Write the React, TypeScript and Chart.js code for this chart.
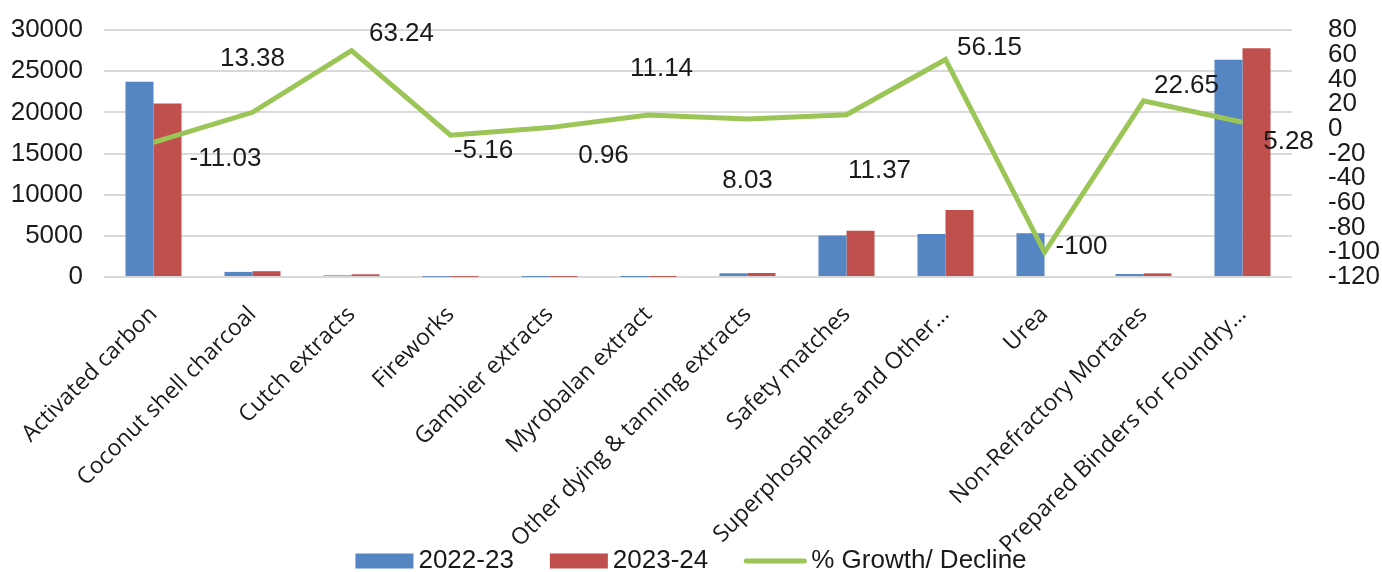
import React, { useEffect, useRef } from "react";
import { Chart, registerables } from "chart.js";

Chart.register(...registerables);

const categories = [
  "Activated carbon",
  "Coconut shell charcoal",
  "Cutch extracts",
  "Fireworks",
  "Gambier extracts",
  "Myrobalan extract",
  "Other dying & tanning extracts",
  "Safety matches",
  "Superphosphates and Other…",
  "Urea",
  "Non-Refractory Mortares",
  "Prepared Binders for Foundry…",
];
const values2022 = [23700, 620, 200, 20, 15, 10, 450, 5050, 5220, 5310, 360, 26400];
const values2023 = [21085, 703, 326, 19, 15, 11, 486, 5624, 8151, 0, 441, 27794];
const growth = [-11.03, 13.38, 63.24, -5.16, 0.96, 11.14, 8.03, 11.37, 56.15, -100, 22.65, 5.28];
const growthLabelOffsets = [
  [72, 16], [0, -53], [50, -17], [33, 16], [54, 28], [13, -46],
  [0, 62], [33, 56], [44, -12], [37, -5], [43, -15], [46, 20],
];

const BLUE = "#5585C3";
const RED = "#C0504D";
const GREEN = "#9BC556";
const TEXT = "#1a1a1a";
const NUM_FONT = '"Liberation Sans", Arial, sans-serif';

const labelPlugin = {
  id: "growthLabels",
  afterDatasetsDraw(chart: any) {
    const meta = chart.getDatasetMeta(2);
    const ctx = chart.ctx;
    ctx.save();
    ctx.font = `26px ${NUM_FONT}`;
    ctx.fillStyle = TEXT;
    ctx.textAlign = "center";
    ctx.textBaseline = "middle";
    meta.data.forEach((pt: any, i: number) => {
      const [dx, dy] = growthLabelOffsets[i];
      ctx.fillText(String(growth[i]), pt.x + dx, pt.y + dy);
    });
    ctx.restore();
  },
};

const legendPlugin = {
  id: "customLegend",
  afterDraw(chart: any) {
    const ctx = chart.ctx;
    const ds = chart.data.datasets;
    ctx.save();
    ctx.font = `26px ${NUM_FONT}`;
    const boxW = 58, boxH = 15, lineW = 62, gapText = 5, gapItem = 36;
    const items = ds.map((d: any) => {
      const isLine = d.type === "line";
      const sw = isLine ? lineW : boxW;
      const tw = ctx.measureText(d.label).width;
      return { d, isLine, sw, tw, w: sw + gapText + tw };
    });
    const total = items.reduce((s: number, it: any) => s + it.w, 0) + gapItem * (items.length - 1);
    let x = (chart.width - total) / 2;
    const cy = 561;
    ctx.textBaseline = "middle";
    ctx.textAlign = "left";
    items.forEach((it: any) => {
      if (it.isLine) {
        ctx.strokeStyle = it.d.borderColor;
        ctx.lineWidth = 5;
        ctx.lineCap = "round";
        ctx.beginPath();
        ctx.moveTo(x + 2, cy);
        ctx.lineTo(x + it.sw - 2, cy);
        ctx.stroke();
      } else {
        ctx.fillStyle = it.d.backgroundColor;
        ctx.fillRect(x, cy - boxH / 2, it.sw, boxH);
      }
      ctx.fillStyle = TEXT;
      ctx.fillText(it.d.label, x + it.sw + gapText, cy);
      x += it.w + gapItem;
    });
    ctx.restore();
  },
};

export default function App() {
  const ref = useRef<HTMLCanvasElement>(null);
  useEffect(() => {
    const chart = new Chart(ref.current!, {
      type: "bar",
      data: {
        labels: categories,
        datasets: [
          { type: "bar", label: "2022-23", data: values2022, backgroundColor: BLUE, yAxisID: "y", order: 1, categoryPercentage: 0.566, barPercentage: 1 },
          { type: "bar", label: "2023-24", data: values2023, backgroundColor: RED, yAxisID: "y", order: 1, categoryPercentage: 0.566, barPercentage: 1 },
          { type: "line", label: "% Growth/ Decline", data: growth, borderColor: GREEN, backgroundColor: GREEN, borderWidth: 5, pointRadius: 0, yAxisID: "y1", order: 0, tension: 0 },
        ] as any,
      },
      options: {
        responsive: false,
        animation: false,
        layout: { padding: { left: 0, right: 0, top: 30, bottom: 0 } },
        plugins: {
          tooltip: { enabled: false },
          legend: { display: false },
        },
        scales: {
          x: {
            grid: { display: false },
            border: { display: false },
            ticks: {
              minRotation: 45,
              maxRotation: 45,
              autoSkip: false,
              color: TEXT,
              padding: 16,
              font: { family: '"Open Sans", sans-serif', size: 23 },
            },
            afterFit: (s: any) => { s.height = 295; s.paddingLeft = 0; s.paddingRight = 0; },
          },
          y: {
            position: "left",
            min: 0,
            max: 30000,
            ticks: { stepSize: 5000, color: TEXT, padding: 21, font: { family: NUM_FONT, size: 26 }, callback: (v: any) => String(v) },
            grid: { color: "#d9d9d9", lineWidth: 2, drawTicks: false },
            border: { display: false },
            afterFit: (s: any) => { s.width = 104; s.paddingTop = 0; s.paddingBottom = 0; },
          },
          y1: {
            position: "right",
            min: -120,
            max: 80,
            ticks: { stepSize: 20, autoSkip: false, color: TEXT, padding: 36, font: { family: NUM_FONT, size: 26 }, callback: (v: any) => String(v) },
            grid: { display: false, drawTicks: false },
            border: { display: false },
            afterFit: (s: any) => { s.width = 90; s.paddingTop = 0; s.paddingBottom = 0; },
          },
        },
      },
      plugins: [labelPlugin, legendPlugin],
    });
    return () => chart.destroy();
  }, []);
  return (
    <div style={{ position: "fixed", left: 0, top: 0, width: 1382, height: 572, background: "#fff" }}>
      <canvas ref={ref} width={1382} height={572} />
    </div>
  );
}
